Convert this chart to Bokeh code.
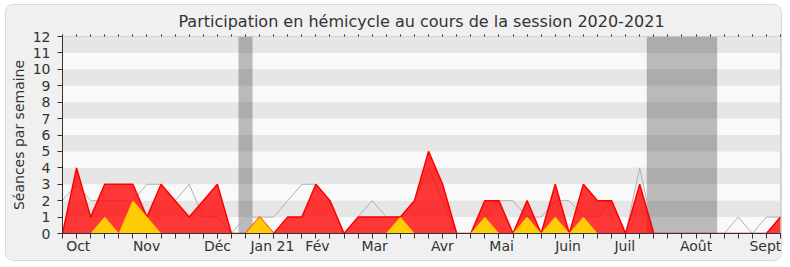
from bokeh.plotting import figure
from bokeh.models import Range1d, FixedTicker, LinearAxis, BoxAnnotation, ColumnDataSource
from bokeh.embed import file_html
from bokeh.resources import INLINE

# --- data (one value per week of the 2020-2021 session) ---
semaines = list(range(52))
presences = [0, 4, 1, 3, 3, 3, 1, 3, 2, 1, 2, 3, 0, 0, 1, 0, 1, 1, 3, 2,
             0, 1, 1, 1, 1, 2, 5, 3, 0, 0, 2, 2, 0, 2, 0, 3, 0, 3, 2, 2,
             0, 3, 0, 0, 0, 0, 0, 0, 0, 0, 0, 1]
participations = [0, 0, 0, 1, 0, 2, 1, 0, 0, 0, 0, 0, 0, 0, 1, 0, 0, 0, 0, 0,
                  0, 0, 0, 0, 1, 0, 0, 0, 0, 0, 1, 0, 0, 1, 0, 1, 0, 1, 0, 0,
                  0, 0, 0, 0, 0, 0, 0, 0, 0, 0, 0, 0]
mediane = [2, 3, 2, 2, 2, 2, 3, 3, 2, 3, 1, 1, 0, 1, 1, 1, 2, 3, 3, 2,
           0, 1, 2, 1, 1, 2, 4, 2, 0, 0, 1, 2, 2, 1, 1, 2, 2, 1, 1, 2,
           0, 4, 0, 0, 0, 0, 0, 0, 1, 0, 1, 1]
vacances = [(12.5, 13.5), (41.5, 46.5)]
mois = ["Oct", "Nov", "Déc", "Jan 21", "Fév", "Mar", "Avr", "Mai", "Juin", "Juil", "Août", "Sept"]
mois_pos = [1.12, 5.97, 11.01, 14.91, 18.11, 22.17, 26.98, 31.19, 35.91, 39.94, 45.0, 49.93]
y_ticks = list(range(0, 13))

FONT = "DejaVu Sans"
TXT = "#333333"

src = ColumnDataSource(dict(x=semaines, pres=presences, part=participations,
                            med=mediane, zero=[0] * len(semaines)))

p = figure(width=777, height=257, output_backend="svg", toolbar_location=None,
           x_range=Range1d(0, len(semaines) - 1), y_range=Range1d(0, 12),
           x_axis_location=None, y_axis_location=None,
           min_border_left=56, min_border_right=3, min_border_top=31, min_border_bottom=29,
           background_fill_color="#f9f9f9", border_fill_color="#f0f0f0",
           outline_line_color="#cccccc", margin=(4, 0, 0, 5),
           styles={"border": "1px solid #d9d9d9", "border-radius": "8px",
                   "overflow": "hidden", "background-color": "#f0f0f0"})
p.grid.visible = False

# alternating stripes
for k in range(1, 12, 2):
    p.add_layout(BoxAnnotation(bottom=k, top=k + 1, fill_color="#e6e6e6", fill_alpha=1,
                               line_color=None, level="underlay"))

# holiday periods
for a, b in vacances:
    p.add_layout(BoxAnnotation(left=a, right=b, fill_color="black", fill_alpha=0.25,
                               line_color=None, level="underlay"))

# series
p.line("x", "med", source=src, line_color="#b0b0b0", line_width=1)
p.varea("x", y1="zero", y2="pres", source=src, fill_color="#ff0000", fill_alpha=0.78)
p.line("x", "pres", source=src, line_color="#ff0000", line_width=1.5)
p.varea("x", y1="zero", y2="part", source=src, fill_color="#ffd400", fill_alpha=0.95)
p.line("x", "part", source=src, line_color="#ffc800", line_width=1, line_alpha=0.6)

# axes
xa = LinearAxis(ticker=FixedTicker(ticks=mois_pos, minor_ticks=semaines))
xa.major_label_overrides = {pos: m for pos, m in zip(mois_pos, mois)}
xa.major_tick_line_color = None
xa.minor_tick_in = 0
xa.minor_tick_out = 5
xa.minor_tick_line_color = TXT
xa.axis_line_color = TXT
xa.major_label_standoff = -2
xa.major_label_text_font = FONT
xa.major_label_text_font_size = "14px"
xa.major_label_text_color = TXT
p.add_layout(xa, "below")

ta = LinearAxis(ticker=FixedTicker(ticks=[], minor_ticks=semaines))
ta.major_label_text_font_size = "0px"
ta.major_label_standoff = 0
ta.minor_tick_in = 0
ta.minor_tick_out = 2
ta.minor_tick_line_color = "#222222"
ta.axis_line_color = None
p.add_layout(ta, "above")

ya = LinearAxis(ticker=FixedTicker(ticks=y_ticks))
ya.major_tick_in = 0
ya.major_tick_out = 5
ya.major_tick_line_color = TXT
ya.axis_line_color = TXT
ya.major_label_standoff = 7
ya.major_label_text_font = FONT
ya.major_label_text_font_size = "14px"
ya.major_label_text_color = TXT
ya.axis_label = "Séances par semaine"
ya.axis_label_text_font = FONT
ya.axis_label_text_font_size = "14px"
ya.axis_label_text_font_style = "normal"
ya.axis_label_text_color = TXT
ya.axis_label_standoff = 3
p.add_layout(ya, "left")

p.title.text = "Participation en hémicycle au cours de la session 2020-2021"
p.title.text_font = FONT
p.title.text_font_size = "16px"
p.title.text_font_style = "normal"
p.title.text_color = TXT
p.title.align = "center"
p.title.offset = 6
p.title.standoff = 7

open("out.html", "w").write(file_html(p, INLINE))
